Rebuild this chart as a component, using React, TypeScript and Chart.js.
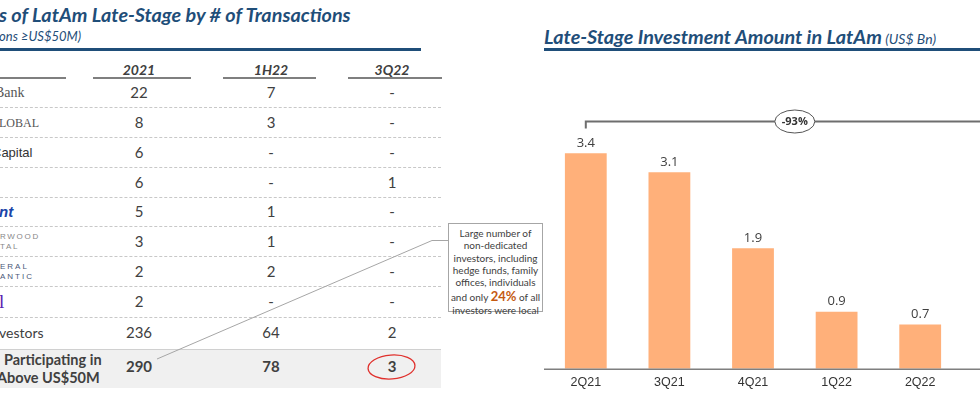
import React, { useEffect, useRef } from 'react';
import { Chart, registerables } from 'chart.js';

Chart.register(...registerables);

// ---- Chart data ----
const quarters = ['2Q21', '3Q21', '4Q21', '1Q22', '2Q22'];
const amounts = [3.4, 3.1, 1.9, 0.9, 0.7];
const declineLabel = '-93%';

// ---- Table data ----
const periodHeaders = ['2021', '1H22', '3Q22'];
const investorNames = ['Bank', 'LOBAL', 'Capital', '', 'nt', 'RWOOD\nTAL', 'ERAL\nANTIC', 'l', 'vestors'];
const deals2021 = ['22', '8', '6', '6', '5', '3', '2', '2', '236'];
const deals1H22 = ['7', '3', '-', '-', '1', '1', '2', '-', '64'];
const deals3Q22 = ['-', '-', '-', '1', '-', '-', '-', '-', '2'];
const totalLabel = ['Participating in', 'Above US$50M'];
const totals = ['290', '78', '3'];
const calloutLines = ['Large number of', 'non-dedicated', 'investors, including', 'hedge funds, family', 'offices, individuals'];
const calloutHighlight = ['and only ', '24%', ' of all'];
const calloutLast = 'investors were local';

const BLUE = '#1f4e79';
const TXT = '#404040';
const CAL = 'Lato, "Open Sans", sans-serif';

const rowCenters = [93, 123, 152.5, 182.5, 212, 242, 271.5, 302, 333];
const dashYs = [107, 137, 166.5, 196.5, 226, 256, 285.5, 316.5];
const colCenters = [139, 271, 392];

const nameStyles: any[] = [
  { font: '14px "Liberation Serif", serif', color: '#555', left: -5 },
  { font: '12px "Liberation Serif", serif', color: '#555', left: -1 },
  { font: '13px "Liberation Sans", sans-serif', color: '#333', left: -8 },
  { font: '13px sans-serif', color: '#333', left: 0 },
  { font: 'italic bold 15px "Liberation Sans", sans-serif', color: '#1a44a8', left: -1 },
  { font: '8px "Liberation Sans", sans-serif', color: '#888', left: 0, spacing: 1.7, lh: 10.5 },
  { font: '8px "Liberation Sans", sans-serif', color: '#4a5878', left: 0, spacing: 2, lh: 9.5 },
  { font: '19px "Liberation Serif", serif', color: '#5a20b0', left: -1 },
  { font: `14px ${CAL}`, color: TXT, left: -1 },
];

function BarChart() {
  const ref = useRef<HTMLCanvasElement | null>(null);
  useEffect(() => {
    if (!ref.current) return;
    const annot = {
      id: 'annot',
      afterDraw(chart: any) {
        const ctx = chart.ctx;
        const xs = chart.scales.x;
        const ys = chart.scales.y;
        const ca = chart.chartArea;
        ctx.save();
        // axis line
        ctx.strokeStyle = '#7f7f7f';
        ctx.lineWidth = 1.5;
        ctx.beginPath();
        ctx.moveTo(ca.left - 1, ca.bottom + 0.5);
        ctx.lineTo(chart.width, ca.bottom + 0.5);
        ctx.stroke();
        // value labels
        ctx.fillStyle = TXT;
        ctx.font = `13px "Open Sans", sans-serif`;
        ctx.textAlign = 'center';
        ctx.textBaseline = 'middle';
        const meta = chart.getDatasetMeta(0);
        meta.data.forEach((bar: any, i: number) => {
          ctx.fillText(amounts[i].toFixed(1), bar.x, bar.y - 10);
        });
        // bracket
        const bx0 = xs.getPixelForValue(0);
        const bx1 = xs.getPixelForValue(quarters.length);
        const by = ys.getPixelForValue(3.9);
        ctx.strokeStyle = '#6e6e6e';
        ctx.lineWidth = 2;
        ctx.beginPath();
        ctx.moveTo(bx0, by + 7);
        ctx.lineTo(bx0, by);
        ctx.lineTo(chart.width, by);
        ctx.stroke();
        const cx = (bx0 + bx1) / 2;
        ctx.fillStyle = '#fff';
        ctx.strokeStyle = '#555';
        ctx.lineWidth = 1;
        ctx.beginPath();
        ctx.ellipse(cx, by, 20, 11.5, 0, 0, Math.PI * 2);
        ctx.fill();
        ctx.stroke();
        ctx.fillStyle = '#333';
        ctx.font = `bold 11px "Open Sans", sans-serif`;
        ctx.fillText(declineLabel, cx, by + 0.5);
        ctx.restore();
      },
    };
    const chart = new Chart(ref.current, {
      type: 'bar',
      data: {
        labels: quarters,
        datasets: [
          {
            data: amounts,
            backgroundColor: '#FFB07A',
            categoryPercentage: 1,
            barPercentage: 0.5,
          },
        ],
      },
      options: {
        animation: false,
        responsive: false,
        maintainAspectRatio: false,
        layout: { padding: { left: 0, right: 18, top: 0, bottom: 4.2 } },
        plugins: { legend: { display: false }, tooltip: { enabled: false } },
        scales: {
          x: {
            grid: { display: false, drawTicks: false },
            border: { display: false },
            ticks: {
              color: '#333',
              padding: 6,
              font: { family: '"Liberation Sans", Arial, sans-serif', size: 12.5 },
            },
          },
          y: { display: false, min: 0, max: 4.87 },
        },
      },
      plugins: [annot],
    });
    return () => chart.destroy();
  }, []);
  return (
    <canvas
      ref={ref}
      width={436}
      height={340}
      style={{ position: 'absolute', left: 544, top: 60, width: 436, height: 340 }}
    />
  );
}

function Cell({ x, y, text, style }: any) {
  return (
    <div
      style={{
        position: 'absolute',
        left: x - 40,
        top: y - 10,
        width: 80,
        height: 20,
        lineHeight: '20px',
        textAlign: 'center',
        whiteSpace: 'nowrap',
        ...style,
      }}
    >
      {text}
    </div>
  );
}

export default function App() {
  const cols = [deals2021, deals1H22, deals3Q22];
  return (
    <div
      style={{
        position: 'fixed',
        left: 0,
        top: 0,
        width: 980,
        height: 400,
        background: '#fff',
        overflow: 'hidden',
        fontFamily: CAL,
        color: TXT,
      }}
    >
      {/* Left title */}
      <div style={{ position: 'absolute', left: -1, top: 2, whiteSpace: 'nowrap', font: `italic bold 19.8px ${CAL}`, color: BLUE }}>
        s of LatAm Late-Stage by # of Transactions
      </div>
      <div style={{ position: 'absolute', left: -1, top: 28, whiteSpace: 'nowrap', font: `italic 13px ${CAL}`, color: BLUE }}>
        ons ≥US$50M)
      </div>
      <div style={{ position: 'absolute', left: 0, top: 48, width: 421, height: 2.5, background: BLUE }} />

      {/* Right title */}
      <div style={{ position: 'absolute', left: 544, top: 24, whiteSpace: 'nowrap', color: BLUE }}>
        <span style={{ font: `italic bold 19.8px ${CAL}` }}>Late-Stage Investment Amount in LatAm</span>
        <span style={{ font: `italic 14px ${CAL}` }}> (US$ Bn)</span>
      </div>
      <div style={{ position: 'absolute', left: 544, top: 48, width: 436, height: 2.5, background: BLUE }} />

      {/* Table header */}
      <div style={{ position: 'absolute', left: 0, top: 77, width: 66, height: 2, background: '#7f7f7f' }} />
      {[
        [93, 191],
        [223, 316],
        [348, 442],
      ].map(([a, b], i) => (
        <div key={'hl' + i} style={{ position: 'absolute', left: a, top: 77, width: b - a, height: 2, background: '#7f7f7f' }} />
      ))}
      {periodHeaders.map((h, i) => (
        <Cell key={'h' + i} x={colCenters[i]} y={70.5} text={h} style={{ font: `italic bold 14px ${CAL}`, color: TXT }} />
      ))}

      {/* dashed separators */}
      {dashYs.map((y, i) => (
        <div key={'d' + i} style={{ position: 'absolute', left: 0, top: y, width: 441, height: 0, borderTop: '1px dashed #c8c8c8' }} />
      ))}

      {/* total band */}
      <div style={{ position: 'absolute', left: 0, top: 349, width: 441, height: 38, background: '#f0f0f0', borderTop: '1px solid #d0d0d0' }} />

      {/* names */}
      {investorNames.map((n, i) => {
        const s = nameStyles[i];
        const lines = n.split('\n');
        const lh = s.lh || 18;
        return (
          <div
            key={'n' + i}
            style={{
              position: 'absolute',
              left: s.left,
              top: rowCenters[i] - (lines.length * lh) / 2,
              font: s.font,
              color: s.color,
              letterSpacing: s.spacing || 0,
              lineHeight: lh + 'px',
              whiteSpace: 'pre',
            }}
          >
            {n}
          </div>
        );
      })}

      {/* values */}
      {cols.map((col, ci) =>
        col.map((v, ri) => (
          <Cell key={'v' + ci + '-' + ri} x={colCenters[ci]} y={rowCenters[ri]} text={v} style={{ font: `15px ${CAL}`, color: TXT }} />
        ))
      )}

      {/* totals */}
      <div style={{ position: 'absolute', left: 4, top: 351, font: `bold 14.5px ${CAL}`, color: TXT, whiteSpace: 'nowrap', lineHeight: '18px' }}>
        {totalLabel[0]}
      </div>
      <div style={{ position: 'absolute', left: -3, top: 369, font: `bold 14.5px ${CAL}`, color: TXT, whiteSpace: 'nowrap', lineHeight: '18px' }}>
        {totalLabel[1]}
      </div>
      {totals.map((v, i) => (
        <Cell key={'t' + i} x={colCenters[i]} y={367} text={v} style={{ font: `bold 15px ${CAL}`, color: TXT }} />
      ))}

      {/* connector + red circle */}
      <svg width={980} height={400} style={{ position: 'absolute', left: 0, top: 0, pointerEvents: 'none' }}>
        <polyline points="157,359 432,240.5 448,240.5" fill="none" stroke="#a6a6a6" strokeWidth={1} />
        <ellipse cx={391.5} cy={367} rx={23.5} ry={12} fill="none" stroke="#e0302c" strokeWidth={1.3} transform="rotate(-4 391.5 367)" />
      </svg>

      {/* callout box */}
      <div
        style={{
          position: 'absolute',
          left: 448,
          top: 223,
          width: 95,
          height: 89,
          border: '1px solid #a6a6a6',
          boxSizing: 'border-box',
          background: '#fff',
          textAlign: 'center',
          font: `10px ${CAL}`,
          color: TXT,
          lineHeight: '12.3px',
          paddingTop: 3,
          whiteSpace: 'nowrap',
        }}
      >
        {calloutLines.map((l, i) => (
          <div key={'c' + i}>{l}</div>
        ))}
        <div style={{ lineHeight: '14px' }}>
          {calloutHighlight[0]}
          <span style={{ font: `bold 13px ${CAL}`, color: '#c55a11' }}>{calloutHighlight[1]}</span>
          {calloutHighlight[2]}
        </div>
        <div>{calloutLast}</div>
      </div>

      <BarChart />
    </div>
  );
}
